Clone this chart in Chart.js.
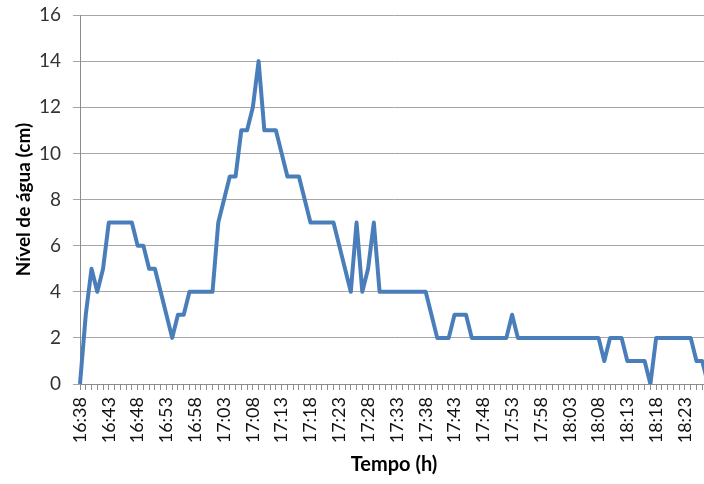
<!DOCTYPE html>
<html lang="pt">
<head>
<meta charset="UTF-8">
<title>Nível de água</title>
<script src="https://cdn.jsdelivr.net/npm/chart.js@4/dist/chart.umd.min.js"></script>
<style>
    html, body { margin: 0; padding: 0; background: #fff; overflow: hidden; }
    #wrap { position: absolute; left: 0; top: 0; width: 708px; height: 484px; }
</style>
</head>
<body>
<div id="wrap"><canvas id="nivelChart" width="708" height="484"></canvas></div>

<script>
// Leituras de minuto a minuto
var tempos = [
    '16:38','16:39','16:40','16:41','16:42','16:43','16:44','16:45','16:46','16:47',
    '16:48','16:49','16:50','16:51','16:52','16:53','16:54','16:55','16:56','16:57',
    '16:58','16:59','17:00','17:01','17:02','17:03','17:04','17:05','17:06','17:07',
    '17:08','17:09','17:10','17:11','17:12','17:13','17:14','17:15','17:16','17:17',
    '17:18','17:19','17:20','17:21','17:22','17:23','17:24','17:25','17:26','17:27',
    '17:28','17:29','17:30','17:31','17:32','17:33','17:34','17:35','17:36','17:37',
    '17:38','17:39','17:40','17:41','17:42','17:43','17:44','17:45','17:46','17:47',
    '17:48','17:49','17:50','17:51','17:52','17:53','17:54','17:55','17:56','17:57',
    '17:58','17:59','18:00','18:01','18:02','18:03','18:04','18:05','18:06','18:07',
    '18:08','18:09','18:10','18:11','18:12','18:13','18:14','18:15','18:16','18:17',
    '18:18','18:19','18:20','18:21','18:22','18:23','18:24','18:25','18:26','18:27'
];

var nivel = [
    0, 3, 5, 4, 5, 7, 7, 7, 7, 7,
    6, 6, 5, 5, 4, 3, 2, 3, 3, 4,
    4, 4, 4, 4, 7, 8, 9, 9, 11, 11,
    12, 14, 11, 11, 11, 10, 9, 9, 9, 8,
    7, 7, 7, 7, 7, 6, 5, 4, 7, 4,
    5, 7, 4, 4, 4, 4, 4, 4, 4, 4,
    4, 3, 2, 2, 2, 3, 3, 3, 2, 2,
    2, 2, 2, 2, 2, 3, 2, 2, 2, 2,
    2, 2, 2, 2, 2, 2, 2, 2, 2, 2,
    2, 1, 2, 2, 2, 1, 1, 1, 1, 0,
    2, 2, 2, 2, 2, 2, 2, 1, 1, 0
];

// Só mostra o rótulo a cada 5 minutos
var passoRotulo = 5;
var yTicks = [0, 2, 4, 6, 8, 10, 12, 14, 16];

var fonte = 'Lato, "Open Sans", sans-serif';

var ctx = document.getElementById('nivelChart').getContext('2d');

var nivelChart = new Chart(ctx, {
    type: 'line',
    data: {
        labels: tempos,
        datasets: [{
            label: 'Nível',
            data: nivel,
            borderColor: '#4a7ebb',
            borderWidth: 4,
            borderJoinStyle: 'round',
            pointRadius: 0,
            tension: 0,
            fill: false
        }]
    },
    options: {
        responsive: false,
        animation: false,
        layout: { padding: { top: 15, right: 0, bottom: 0, left: 0 } },
        plugins: {
            legend: { display: false },
            tooltip: { enabled: false }
        },
        scales: {
            x: {
                offset: false,
                afterFit: function(scale) {
                    scale.height = 100;
                    scale.paddingLeft = 0;
                    scale.paddingRight = 0;
                },
                border: { color: '#8c8c8c', width: 1 },
                grid: {
                    drawOnChartArea: false,
                    drawTicks: true,
                    tickLength: 6,
                    color: '#8c8c8c'
                },
                ticks: {
                    autoSkip: false,
                    maxRotation: 90,
                    minRotation: 90,
                    padding: 7,
                    color: '#111',
                    font: { family: fonte, size: 18 },
                    callback: function(value, index) {
                        return index % passoRotulo === 0 ? tempos[index] : '';
                    }
                },
                title: {
                    display: true,
                    text: 'Tempo (h)',
                    color: '#000',
                    font: { family: fonte, size: 20, weight: 'bold' },
                    padding: { top: 0, bottom: 7 }
                }
            },
            y: {
                min: 0,
                max: 16,
                afterFit: function(scale) {
                    scale.width = 80;
                    scale.paddingTop = 0;
                    scale.paddingBottom = 0;
                },
                afterBuildTicks: function(scale) {
                    scale.ticks = yTicks.map(function(v) { return { value: v }; });
                },
                border: { color: '#8c8c8c', width: 1 },
                grid: {
                    color: '#a6a6a6',
                    lineWidth: 1,
                    drawTicks: true,
                    tickLength: 7
                },
                ticks: {
                    padding: 12,
                    color: '#333',
                    font: { family: fonte, size: 19 }
                },
                title: {
                    display: true,
                    text: 'Nível de água (cm)',
                    color: '#000',
                    font: { family: fonte, size: 19, weight: 'bold' },
                    padding: { top: 12, bottom: 0 }
                }
            }
        }
    }
});
</script>
</body>
</html>
